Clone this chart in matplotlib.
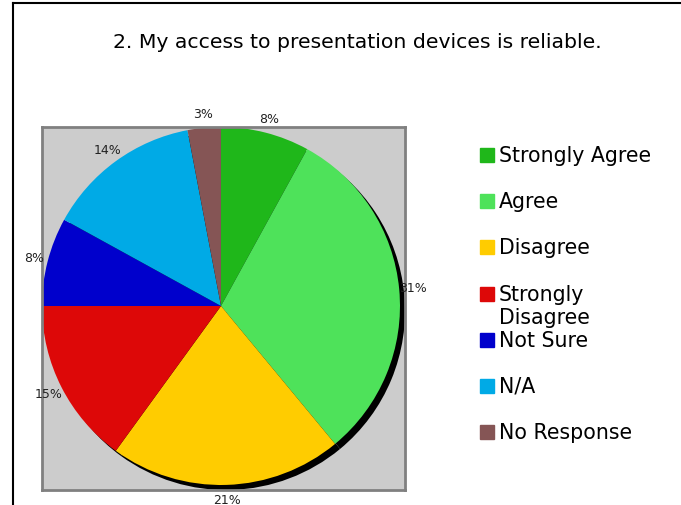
import numpy as np
import matplotlib.pyplot as plt
from matplotlib.patches import Rectangle
from matplotlib.lines import Line2D

# survey answers, percent of respondents
answers = ['Strongly Agree', 'Agree', 'Disagree', 'Strongly\nDisagree',
           'Not Sure', 'N/A', 'No Response']
percents = [8, 31, 21, 15, 8, 14, 3]
slice_colors = ['#1fb71a', '#4ee25a', '#ffcc00', '#dd0808',
                '#0000cc', '#00aae6', '#855555']
title = '2. My access to presentation devices is reliable.'

W, H = 681, 506
fig = plt.figure(figsize=(W / 100, H / 100), dpi=100)
fig.patch.set_facecolor('white')

# page frame (top and left edge only)
fig.add_artist(Line2D([13 / W, 1], [1 - 4 / H, 1 - 4 / H], color='black', lw=1.5))
fig.add_artist(Line2D([13 / W, 13 / W], [0, 1 - 4 / H], color='black', lw=1.5))

fig.text(357 / W, 1 - 42 / H, title, ha='center', va='center', fontsize=14.7)

# plot area, grey box
ax = fig.add_axes([42 / W, 1 - 491 / H, 363 / W, 363 / H])

# black shadow under the pie
ax.pie(percents, colors=['black'] * len(percents), startangle=90,
       counterclock=False, center=(0.028, -0.028), radius=1)

wedges, texts, autotexts = ax.pie(percents, colors=slice_colors, startangle=90,
                                  counterclock=False, radius=1,
                                  autopct='%d%%', pctdistance=1.08,
                                  wedgeprops=dict(linewidth=0))
for t in autotexts:
    t.set_fontsize(9)
    t.set_color('#222222')
    t.set_clip_on(False)

ax.set_frame_on(True)
ax.set_facecolor('#cccccc')
for s in ax.spines.values():
    s.set_color('#808080')
    s.set_linewidth(2)
ax.set_xticks([])
ax.set_yticks([])
ax.set_xlim(-1.0, 1.028)
ax.set_ylim(-1.028, 1.0)
ax.set_aspect('auto')

# legend drawn by hand to keep the original spacing
for i, (name, col) in enumerate(zip(answers, slice_colors)):
    yc = 156 + i * 46.2
    fig.add_artist(Rectangle((480 / W, 1 - (yc + 7) / H), 14 / W, 14 / H,
                             color=col, transform=fig.transFigure))
    for k, line in enumerate(name.split('\n')):
        fig.text(499 / W, 1 - (yc + k * 23) / H, line, ha='left',
                 va='center', fontsize=14.8, color='black')

fig.savefig('out.png', dpi=100)
